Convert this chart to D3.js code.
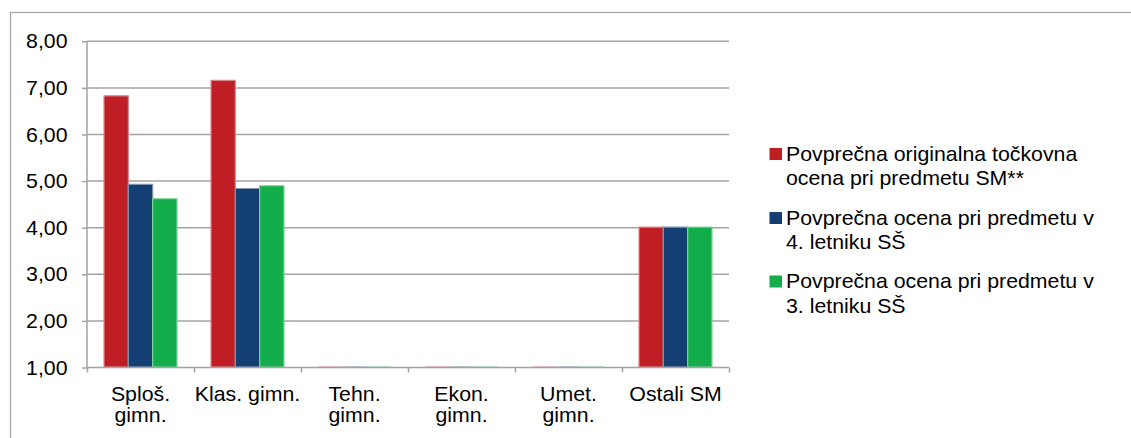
<!DOCTYPE html>
<html>
<head>
<meta charset="utf-8">
<script src="https://cdn.jsdelivr.net/npm/d3@7.9.0/dist/d3.min.js"></script>
<style>
    body { margin: 0; background: #fff; }
    svg { display: block; font-family: "Liberation Sans", Arial, sans-serif; }
    .lbl { font-size: 20px; fill: #000; }
</style>
</head>
<body>
<div id="chart"></div>
<script>
// Categories (x labels, may wrap on two lines)
const categories = [
    ['Sploš.', 'gimn.'],
    ['Klas. gimn.'],
    ['Tehn.', 'gimn.'],
    ['Ekon.', 'gimn.'],
    ['Umet.', 'gimn.'],
    ['Ostali SM'],
];
const seriesNames = [
    ['Povprečna originalna točkovna', 'ocena pri predmetu SM**'],
    ['Povprečna ocena pri predmetu v', '4. letniku SŠ'],
    ['Povprečna ocena pri predmetu v', '3. letniku SŠ'],
];
const seriesColors = ['#be1e24', '#143f73', '#13ae4b'];
const seriesStrokes = ['#d9868a', '#7f93ad', '#7fd09c'];

const originalScore = [6.82, 7.15, 1.00, 1.00, 1.00, 4.00];
const grade4 = [4.92, 4.83, 1.00, 1.00, 1.00, 4.00];
const grade3 = [4.61, 4.89, 1.00, 1.00, 1.00, 4.00];
const yTicks = [1, 2, 3, 4, 5, 6, 7, 8];

const width = 1131;
const height = 438;
const stretch = 1.065; // text in the source is a bit wider than normal Arial

const svg = d3.select('#chart').append('svg')
    .attr('width', width)
    .attr('height', height);

// outer frame
svg.append('rect')
    .attr('x', 10.5).attr('y', 12.5)
    .attr('width', width + 20).attr('height', height + 20)
    .attr('fill', 'none')
    .attr('stroke', '#a6a6a6')
    .attr('stroke-width', 1.3);

const plot = { left: 87, right: 729, top: 41.3, bottom: 367.5 };

const x0 = d3.scaleBand()
    .domain(d3.range(categories.length))
    .range([plot.left, plot.right])
    .paddingInner(0.318)
    .paddingOuter(0.159);
const x1 = d3.scaleBand()
    .domain(d3.range(seriesNames.length))
    .range([0, x0.bandwidth()]);
const y = d3.scaleLinear()
    .domain([1, 8])
    .range([plot.bottom, plot.top]);

// gridlines
svg.append('g')
    .selectAll('line')
    .data(yTicks.slice(1))
    .join('line')
    .attr('x1', plot.left).attr('x2', plot.right)
    .attr('y1', (d) => y(d)).attr('y2', (d) => y(d))
    .attr('stroke', '#a3a3a3')
    .attr('stroke-width', 1.5);

// bars (drawn as paths so zero-height bars still show their border)
const values = [originalScore, grade4, grade3];
const groups = svg.append('g')
    .selectAll('g')
    .data(categories.map((c, i) => i))
    .join('g')
    .attr('transform', (i) => `translate(${x0(i)},0)`);
groups.selectAll('path')
    .data((i) => values.map((v, s) => ({ s, v: v[i] })))
    .join('path')
    .attr('d', (d) => {
        const p = d3.path();
        const bx = x1(d.s), by = y(d.v);
        p.rect(bx, by - 0.5, x1.bandwidth(), y(1) - by);
        return p.toString();
    })
    .attr('fill', (d) => seriesColors[d.s])
    .attr('stroke', (d) => seriesStrokes[d.s])
    .attr('stroke-width', 1.2);

// axes
const axisColor = '#a3a3a3';
const yAxis = svg.append('g')
    .attr('transform', `translate(${plot.left},0)`)
    .call(d3.axisLeft(y).tickValues(yTicks).tickSize(5).tickFormat(''));
const xAxis = svg.append('g')
    .attr('transform', `translate(0,${plot.bottom})`)
    .call(d3.axisBottom(d3.scaleLinear().domain([0, categories.length]).range([plot.left, plot.right]))
        .ticks(categories.length).tickSize(5).tickFormat(''));
[xAxis, yAxis].forEach((a) => {
    a.select('.domain').attr('stroke', axisColor).attr('stroke-width', 1.5);
    a.selectAll('.tick line').attr('stroke', axisColor).attr('stroke-width', 1.5);
});
xAxis.select('.domain').attr('d', `M${plot.left},0H${plot.right}`);
yAxis.select('.domain').attr('d', `M0,${plot.top}V${plot.bottom}`);

function addText(g, x, yPos, str, anchor) {
    g.append('text')
        .attr('class', 'lbl')
        .attr('transform', `translate(${x},${yPos}) scale(${stretch},1)`)
        .attr('text-anchor', anchor)
        .text(str);
}

// y tick labels
const yLab = svg.append('g');
yTicks.forEach((t) => addText(yLab, 67.5, y(t) + 7, d3.format('.2f')(t).replace('.', ','), 'end'));

// x labels
const xLab = svg.append('g');
categories.forEach((lines, i) => {
    const cx = x0(i) + x0.bandwidth() / 2;
    lines.forEach((l, k) => addText(xLab, cx, 400.5 + k * 21.5, l, 'middle'));
});

// legend
const legendTops = [148, 212, 275.5];
const legend = svg.append('g');
seriesNames.forEach((lines, s) => {
    legend.append('rect')
        .attr('x', 769.5).attr('y', legendTops[s])
        .attr('width', 12.5).attr('height', 12)
        .attr('fill', seriesColors[s]);
    lines.forEach((l, k) => addText(legend, 786, legendTops[s] + 12.5 + k * 24.5, l, 'start'));
});
</script>
</body>
</html>
